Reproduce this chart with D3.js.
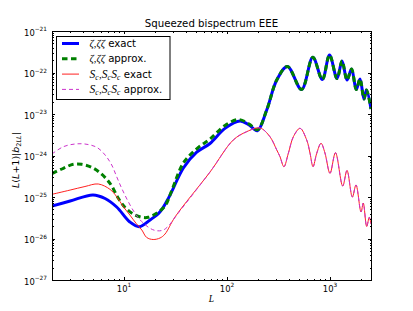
<!DOCTYPE html>
<html>
<head>
<meta charset="utf-8">
<script src="https://cdn.jsdelivr.net/npm/d3@7"></script>
<style>
    body { margin: 0; background: #fff; }
    text { font-family: "DejaVu Sans", sans-serif; fill: #000; }
    .math { font-family: "Liberation Serif", "DejaVu Serif", serif; font-style: italic; }
</style>
</head>
<body>
<svg id="chart" width="413" height="311"></svg>
<script>
// zeta, zeta zeta exact (blue)
const zzExactL = [2.0, 3.0, 5.0, 6.55, 8.49, 11.4, 14.1, 17.9, 22.4, 27.5, 37.7, 50.8, 68.4, 95.6, 134, 164, 197,
    243, 304, 386, 529, 681, 842, 989, 1170, 1309, 1462, 1618, 1799, 1955, 2138, 2259, 2500];
const zzExactB = [6.07e-26, 8.0e-26, 1.12e-25, 9.2e-26, 5.74e-26, 2.50e-26, 1.92e-26, 2.79e-26, 4.42e-26, 1.02e-25,
    5.0e-25, 1.2e-24, 1.95e-24, 4.5e-24, 6.78e-24, 5.43e-24, 3.96e-24,
    1.25e-23, 6.59e-23, 1.40e-22, 3.89e-23, 2.32e-22, 6.78e-23, 2.64e-22, 7.16e-23, 1.89e-22, 6.59e-23, 1.21e-22,
    3.89e-23, 6.97e-23, 2.30e-23, 3.78e-23, 1.32e-23];

// zeta, zeta zeta approx. (green dashed)
const zzApproxL = [2.0, 2.58, 3.22, 3.88, 4.85, 5.84, 7.31, 8.81, 10.2, 12.3, 14.9, 17.2, 20.7, 25.0, 29.2, 37.7,
    50.8, 68.4, 95.6, 129, 164, 197,
    243, 304, 386, 529, 681, 842, 989, 1170, 1309, 1462, 1618, 1799, 1955, 2138, 2259, 2500];
const zzApproxB = [3.68e-25, 4.92e-25, 6.14e-25, 6.14e-25, 5.20e-25, 3.85e-25, 2.14e-25, 9.3e-26, 5.65e-26, 3.89e-26,
    3.24e-26, 3.24e-26, 4.05e-26, 6.07e-26, 1.47e-25, 6.59e-25,
    1.45e-24, 2.5e-24, 5.3e-24, 7.36e-24, 5.74e-24, 4.16e-24,
    1.25e-23, 6.59e-23, 1.40e-22, 3.89e-23, 2.32e-22, 6.78e-23, 2.64e-22, 7.16e-23, 1.89e-22, 6.59e-23, 1.21e-22,
    3.89e-23, 6.97e-23, 2.30e-23, 3.78e-23, 1.32e-23];

// S_c, S_c S_c exact (red)
const scExactL = [2.0, 3.0, 4.18, 5.62, 7.31, 8.49, 9.85, 11.4, 13.1, 14.9, 16.6, 19.2, 22.4, 25.0, 31.3, 68.4,
    115, 155, 209, 261, 304, 327, 357, 394, 441, 512, 594, 640, 684, 743, 818, 893, 1000, 1130, 1328, 1462,
    1648, 1788, 2000, 2104, 2270, 2405, 2500];
const scExactB = [1.16e-25, 1.47e-25, 1.79e-25, 2.06e-25, 1.53e-25, 1.02e-25, 5.84e-26, 3.68e-26, 2.32e-26, 1.60e-26,
    1.06e-26, 9.46e-27, 1.03e-26, 1.28e-26, 3.30e-26, 4.0e-25,
    2.36e-24, 3.74e-24, 4.60e-24, 2.84e-24, 1.36e-24, 9.35e-25, 5.37e-25, 1.13e-24, 2.84e-24, 4.52e-24, 2.36e-24,
    1.13e-24, 5.37e-25, 1.13e-24, 1.97e-24, 1.15e-24, 3.73e-25, 1.17e-24, 1.84e-25, 4.36e-25,
    1.0e-25, 1.95e-25, 4.35e-26, 7.16e-26, 1.95e-26, 3.24e-26, 2.23e-26];

// S_c, S_c S_c approx. (magenta dashed)
const scApproxL = [2.0, 2.58, 3.34, 4.18, 5.43, 6.55, 7.60, 8.49, 9.50, 11.0, 12.8, 14.9, 17.9, 20.7, 24.1, 27.5,
    32.0, 68.4,
    115, 155, 209, 261, 304, 327, 357, 394, 441, 512, 594, 640, 684, 743, 818, 893, 1000, 1130, 1328, 1462,
    1648, 1788, 2000, 2104, 2270, 2405, 2500];
const scApproxB = [1.09e-24, 1.63e-24, 1.89e-24, 1.89e-24, 1.58e-24, 1.03e-24, 5.90e-25, 3.08e-25, 1.62e-25, 7.71e-26,
    4.05e-26, 2.54e-26, 1.76e-26, 1.54e-26, 1.60e-26, 2.11e-26,
    3.48e-26, 4.0e-25,
    2.36e-24, 3.74e-24, 4.60e-24, 2.84e-24, 1.36e-24, 9.35e-25, 5.37e-25, 1.13e-24, 2.84e-24, 4.52e-24, 2.36e-24,
    1.13e-24, 5.37e-25, 1.13e-24, 1.97e-24, 1.15e-24, 3.73e-25, 1.17e-24, 1.84e-25, 4.36e-25,
    1.0e-25, 1.95e-25, 4.35e-26, 7.16e-26, 1.95e-26, 3.24e-26, 2.23e-26];

const xMajor = [10, 100, 1000];
const xExponents = ['1', '2', '3'];
const yMajor = [1e-27, 1e-26, 1e-25, 1e-24, 1e-23, 1e-22, 1e-21];
const yExponents = ['\u221227', '\u221226', '\u221225', '\u221224', '\u221223', '\u221222', '\u221221'];

const titleText = 'Squeezed bispectrum EEE';

const plotLeft = 52, plotRight = 371, plotTop = 31, plotBottom = 280;

const svg = d3.select('#chart');
svg.append('rect').attr('width', 413).attr('height', 311).attr('fill', '#fff');

const x = d3.scaleLog().domain([2, 2500]).range([plotLeft, plotRight]);
const y = d3.scaleLog().domain([1e-27, 1e-21]).range([plotBottom, plotTop]);

// minor ticks on log axes
const xMinor = [];
[1, 10, 100, 1000].forEach(d => {
    for (let k = 2; k <= 9; k++) {
        const v = d * k;
        if (v >= 2 && v <= 2500) xMinor.push(v);
    }
});
const yMinor = [];
[1e-27, 1e-26, 1e-25, 1e-24, 1e-23, 1e-22].forEach(d => {
    for (let k = 2; k <= 9; k++) yMinor.push(d * k);
});

svg.append('clipPath').attr('id', 'plot-clip')
    .append('rect')
    .attr('x', plotLeft).attr('y', plotTop)
    .attr('width', plotRight - plotLeft).attr('height', plotBottom - plotTop);

const line = d3.line()
    .x(d => x(d[0]))
    .y(d => y(d[1]))
    .curve(d3.curveCatmullRom.alpha(0.5));

const series = [
    { L: zzExactL, B: zzExactB, color: '#0000ff', width: 3, dash: null },
    { L: zzApproxL, B: zzApproxB, color: '#008000', width: 3, dash: '5.5,3.5' },
    { L: scExactL, B: scExactB, color: '#ff2020', width: 1, dash: null },
    { L: scApproxL, B: scApproxB, color: '#cc33cc', width: 1, dash: '4,3' }
];

const plot = svg.append('g').attr('clip-path', 'url(#plot-clip)');
series.forEach(s => {
    plot.append('path')
        .datum(s.L.map((l, i) => [l, s.B[i]]))
        .attr('fill', 'none')
        .attr('stroke', s.color)
        .attr('stroke-width', s.width)
        .attr('stroke-dasharray', s.dash)
        .attr('d', line);
});

// axes: ticks on all four sides pointing inward
function addAxis(axisFn, scale, values, size, transform) {
    const g = svg.append('g')
        .attr('transform', transform)
        .call(axisFn(scale).tickValues(values).tickSize(-size).tickFormat(''));
    g.select('.domain').remove();
    g.selectAll('.tick line').attr('stroke', '#000').attr('shape-rendering', 'crispEdges');
    return g;
}
addAxis(d3.axisBottom, x, xMinor, 1.5, `translate(0,${plotBottom})`);
addAxis(d3.axisBottom, x, xMajor, 3, `translate(0,${plotBottom})`);
addAxis(d3.axisTop, x, xMinor, 1.5, `translate(0,${plotTop})`);
addAxis(d3.axisTop, x, xMajor, 3, `translate(0,${plotTop})`);
addAxis(d3.axisLeft, y, yMinor, 1.5, `translate(${plotLeft},0)`);
addAxis(d3.axisLeft, y, yMajor, 3, `translate(${plotLeft},0)`);
addAxis(d3.axisRight, y, yMinor, 1.5, `translate(${plotRight},0)`);
addAxis(d3.axisRight, y, yMajor, 3, `translate(${plotRight},0)`);

svg.append('rect')
    .attr('x', plotLeft).attr('y', plotTop)
    .attr('width', plotRight - plotLeft).attr('height', plotBottom - plotTop)
    .attr('fill', 'none').attr('stroke', '#000').attr('stroke-width', 1)
    .attr('shape-rendering', 'crispEdges');

// tick labels 10^n
xMajor.forEach((v, i) => {
    const t = svg.append('text')
        .attr('x', x(v)).attr('y', 291.5)
        .attr('text-anchor', 'middle')
        .attr('font-size', 8.4);
    t.append('tspan').text('10');
    t.append('tspan').attr('dy', -4.5).attr('font-size', 5.8).text(xExponents[i]);
});
yMajor.forEach((v, i) => {
    const t = svg.append('text')
        .attr('x', 47).attr('y', y(v) + 4.5)
        .attr('text-anchor', 'end')
        .attr('font-size', 8.4);
    t.append('tspan').text('10');
    t.append('tspan').attr('dy', -4.5).attr('font-size', 5.8).text(yExponents[i]);
});

// title and axis labels
svg.append('text')
    .attr('x', (plotLeft + plotRight) / 2).attr('y', 27)
    .attr('text-anchor', 'middle')
    .attr('font-size', 10.2)
    .text(titleText);

svg.append('text')
    .attr('class', 'math')
    .attr('x', (plotLeft + plotRight) / 2).attr('y', 302)
    .attr('text-anchor', 'middle')
    .attr('font-size', 9.5)
    .text('L');

const ylab = svg.append('text')
    .attr('transform', 'translate(19,160) rotate(-90)')
    .attr('text-anchor', 'middle')
    .attr('font-family', '"Liberation Serif", serif')
    .attr('font-size', 9.5);
ylab.append('tspan').attr('font-style', 'italic').text('L');
ylab.append('tspan').text('(');
ylab.append('tspan').attr('font-style', 'italic').text('L');
ylab.append('tspan').text('+1)|');
ylab.append('tspan').attr('font-style', 'italic').text('b');
ylab.append('tspan').attr('dy', 2).attr('font-size', 6.5).text('2');
ylab.append('tspan').attr('font-size', 6.5).attr('font-style', 'italic').text('LL');
ylab.append('tspan').attr('dy', -2).text('|');

// legend
const legend = svg.append('g');
legend.append('rect')
    .attr('x', 56.5).attr('y', 36.5)
    .attr('width', 113.5).attr('height', 63)
    .attr('fill', '#fff').attr('stroke', '#000').attr('stroke-width', 1);

function addSub(t, base, sub) {
    t.append('tspan').attr('class', 'math').attr('font-size', 11.5).text(base);
    t.append('tspan').attr('class', 'math').attr('font-size', 7.5).attr('dy', 2.5).text(sub);
    t.append('tspan').attr('dy', -2.5).attr('font-size', 4).text('\u200a');
}

const legendLabels = ['zeta-exact', 'zeta-approx', 'sc-exact', 'sc-approx'];
const legendWords = ['exact', 'approx.', 'exact', 'approx.'];
series.forEach((s, i) => {
    const ry = 43.5 + i * 15.3;
    legend.append('line')
        .attr('x1', 62).attr('x2', 79)
        .attr('y1', ry).attr('y2', ry)
        .attr('stroke', s.color)
        .attr('stroke-width', s.width)
        .attr('stroke-dasharray', s.dash);
    const t = legend.append('text')
        .attr('class', legendLabels[i])
        .attr('x', 89.5).attr('y', ry + 3.5)
        .attr('font-size', 10.2);
    if (i < 2) {
        t.append('tspan').attr('class', 'math').attr('font-size', 10.5).text('\u03b6,\u03b6\u03b6');
    } else {
        addSub(t, 'S', 'c');
        t.append('tspan').attr('class', 'math').attr('font-size', 10.5).text(',');
        addSub(t, 'S', 'c');
        addSub(t, 'S', 'c');
    }
    t.append('tspan').text(' ' + legendWords[i]);
});
</script>
</body>
</html>
